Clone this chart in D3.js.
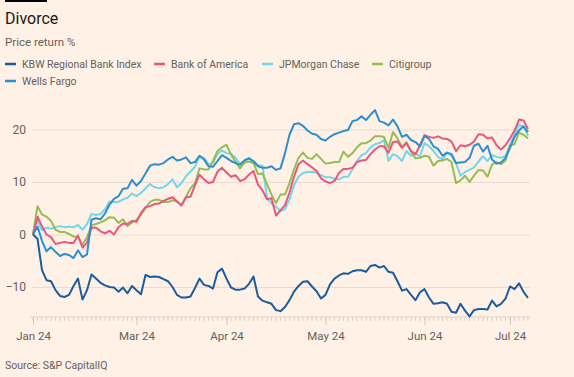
<!DOCTYPE html>
<html>
<head>
<meta charset="utf-8">
<script src="https://cdn.jsdelivr.net/npm/d3@7"></script>
<style>
  html, body { margin: 0; padding: 0; background: #fff1e5; }
  svg { display: block; font-family: Roboto, "Noto Sans", sans-serif; }
</style>
</head>
<body>
<div id="chart"></div>
<script>
// price return %, one value per trading day (30 Jan 2024 .. 8 Jul 2024)
const kbw = [0,-0.8,-6.8,-8.7,-8.9,-10.6,-11.7,-11.9,-11.5,-9.8,-8.4,-12.4,-10.6,-7.6,-8.4,-9.2,-9.7,-10.0,-10.1,-10.9,-10.1,-11.2,-9.8,-10.6,-11.4,-7.7,-8.1,-8.0,
  -8.1,-8.5,-8.9,-10.0,-11.5,-12.0,-12.0,-11.8,-10.2,-8.4,-9.6,-9.8,-10.3,-7.2,-6.5,-8.4,-10.1,-10.5,-10.5,-10.3,-9.4,-8.0,-11.8,-12.6,-12.9,-13.2,-14.4,-14.6,
  -13.8,-12.5,-10.9,-9.8,-9.0,-8.9,-9.9,-10.8,-12.2,-11.5,-9.5,-8.4,-7.8,-7.4,-7.5,-7.0,-6.8,-6.8,-7.1,-6.0,-5.8,-6.3,-6.0,-7.1,-7.3,-8.9,-10.7,-10.4,-11.5,
  -12.5,-11.0,-10.4,-12.0,-13.2,-13.1,-12.9,-13.2,-14.7,-14.9,-13.2,-14.5,-15.6,-14.4,-14.2,-14.2,-14.3,-12.6,-13.7,-13.2,-12.2,-9.9,-10.4,-9.3,-10.9,-12.1];

const bofa = [0,3.4,1.6,0,-0.5,-1.8,-1.6,-1.4,-1.6,-1.6,-0.2,-2.5,-1.6,1.3,1.3,0.6,0.2,0.7,0,1.4,2.1,2.0,2.6,2.4,4.1,5.2,5.4,5.8,
  5.9,6.4,6.8,7.1,6.3,5.5,7.1,7.2,9.4,11.4,10.5,9.8,10.0,12.0,12.7,11.8,11.0,11.3,10.2,10.5,11.4,12.1,9.5,8.4,6.7,6.9,3.6,4.6,
  5.6,8.0,11.0,13.4,14.1,13.4,12.8,12.1,10.7,10.1,9.8,10.2,11.7,12.5,12.5,12.7,13.8,14.1,14.2,15.3,16.2,16.8,16.8,15.6,17.6,17.7,16.5,17.4,15.9,
  15.3,17.0,18.9,18.6,18.4,18.7,18.3,18.2,17.7,15.9,17.0,16.8,17.1,17.7,19.1,19.0,18.3,18.5,17.0,16.2,17.0,18.3,19.8,21.9,21.7,20.1];

const jpm = [0,2.7,0.8,1.3,1.1,1.4,1.6,1.4,1.5,1.4,1.8,0.9,2.0,3.9,3.7,3.9,4.8,6.3,6.2,6.2,6.7,7.0,7.8,7.3,7.9,8.8,9.6,9.0,
  8.8,9.0,9.6,10.5,9.0,9.8,11.1,12.0,12.9,14.9,14.6,13.4,13.6,15.4,16.0,15.5,15.4,14.6,13.4,14.1,14.6,14.0,13.2,13.1,7.0,5.9,5.3,4.5,
  4.8,6.7,9.4,11.0,11.7,11.9,11.9,11.8,11.3,10.9,10.9,10.6,10.5,11.0,11.0,12.4,14.0,15.1,15.5,16.6,17.2,17.4,18.0,14.0,15.3,14.9,14.0,15.9,15.0,
  15.4,14.9,17.4,16.8,15.9,14.8,14.3,15.6,15.0,13.6,11.2,11.9,12.3,12.8,13.9,14.9,14.0,15.1,14.8,14.6,15.0,17.1,19.0,20.9,20.5,18.8];

const citi = [0,5.4,3.8,3.4,2.6,0.9,0.5,0.5,0.1,-0.4,-0.5,-2.0,-0.5,1.7,2.0,2.3,2.7,3.3,3.2,2.2,2.9,1.6,2.3,2.8,3.8,5.0,6.2,6.6,
  6.6,6.2,6.2,6.5,6.3,5.6,7.2,8.8,9.8,12.6,12.4,12.4,14.0,15.9,16.6,17.1,15.2,13.9,12.6,13.7,13.9,13.6,11.5,11.6,9.6,7.6,6.0,7.6,
  7.6,9.8,12.4,14.6,15.6,14.6,14.4,15.3,14.4,13.5,13.6,13.8,13.8,15.8,14.8,15.5,16.6,17.4,17.4,17.9,18.7,18.7,18.6,16.5,19.5,18.3,16.7,17.6,15.8,
  14.5,14.6,15.0,14.8,13.1,14.0,14.1,14.4,13.8,9.8,10.3,11.2,10.0,11.2,12.3,12.2,11.0,13.3,13.8,13.4,14.1,17.0,17.2,19.4,19.0,18.3];

const wells = [0,1.5,-1.2,-3.2,-2.4,-3.3,-4.1,-3.7,-3.9,-4.5,-3.0,-4.3,-3.8,2.8,3.1,2.9,4.0,5.7,6.8,7.3,8.7,8.8,10.4,9.3,10.2,11.6,13.1,13.4,
  13.3,13.6,14.3,14.8,14.1,14.3,14.7,13.6,13.8,15.0,14.3,13.0,12.9,14.0,15.1,14.6,14.0,13.6,13.3,14.1,14.5,13.9,13.0,12.7,12.7,13.0,12.3,12.6,
  15.5,19.0,21.0,21.2,20.7,19.8,19.2,19.0,18.2,17.9,18.6,19.1,19.4,19.7,19.9,21.6,21.8,22.5,21.8,22.8,23.7,21.6,21.3,20.8,21.9,20.6,18.6,19.0,18.0,
  17.6,16.8,18.8,18.2,16.8,16.3,15.0,15.6,15.3,13.6,13.7,13.8,14.6,16.9,17.3,15.8,16.9,14.3,13.5,13.7,14.6,16.5,18.6,19.8,20.6,19.5];

const seriesNames = ["KBW Regional Bank Index", "Bank of America", "JPMorgan Chase", "Citigroup", "Wells Fargo"];
const seriesValues = [kbw, bofa, jpm, citi, wells];
const seriesColors = ["#1c5c9c", "#e9567e", "#74d6e8", "#95be50", "#2b8fd0"];

const yTicks = [-10, 0, 10, 20];
const monthIndex = [0, 23, 43, 65, 87, 106];
const monthLabels = ["Jan 24", "Mar 24", "Apr 24", "May 24", "Jun 24", "Jul 24"];

const width = 574, height = 377;
const margin = {top: 100, right: 46, bottom: 59, left: 33};

const svg = d3.select("#chart").append("svg")
  .attr("width", width)
  .attr("height", height);

svg.append("rect").attr("width", width).attr("height", height).attr("fill", "#fff1e5");
svg.append("rect").attr("x", 5).attr("y", 0).attr("width", 42).attr("height", 2).attr("fill", "#000");

svg.append("text").attr("x", 5).attr("y", 24)
  .attr("font-size", 16).attr("fill", "#1a1817").text("Divorce");
svg.append("text").attr("x", 5).attr("y", 46)
  .attr("font-size", 11.5).attr("fill", "#66605c").text("Price return %");

const n = kbw.length;
const x = d3.scaleLinear([0, n - 1], [margin.left, width - margin.right]);
const y = d3.scaleLinear([-10, 20], [287, 129.5]);

// gridlines + y labels
const yAxis = svg.append("g")
  .attr("transform", `translate(${margin.left - 1},0)`)
  .call(d3.axisLeft(y).tickValues(yTicks).tickSize(-(width - margin.right - margin.left + 3)).tickPadding(6));
yAxis.select(".domain").remove();
yAxis.selectAll(".tick line").attr("stroke", "#e8dcd2");
yAxis.selectAll(".tick text").attr("font-size", 12).attr("fill", "#66605c")
  .attr("font-family", "Roboto, sans-serif");

// x axis: daily minor ticks, month ticks longer
const axisY = 317;
const xg = svg.append("g").attr("transform", `translate(0,${axisY})`);
xg.append("line").attr("x1", x(0) - 3).attr("x2", x(n - 1) + 2)
  .attr("stroke", "#ddd2c8").attr("stroke-width", 1);
xg.selectAll(".minor").data(d3.range(n)).join("line")
  .attr("x1", d => x(d)).attr("x2", d => x(d))
  .attr("y1", 0).attr("y2", 4)
  .attr("stroke", "#ddd2c8");
xg.call(d3.axisBottom(x).tickValues(monthIndex).tickFormat((d, i) => monthLabels[i]).tickSize(8).tickPadding(7));
xg.select(".domain").remove();
xg.selectAll(".tick line").attr("stroke", "#d6cbc1");
xg.selectAll(".tick text").attr("font-size", 11.5).attr("fill", "#66605c")
  .attr("font-family", "Roboto, sans-serif");

// lines
const line = d3.line().x((d, i) => x(i)).y(d => y(d));
const drawOrder = [2, 3, 1, 4, 0];
svg.append("g").selectAll("path")
  .data(drawOrder)
  .join("path")
  .attr("fill", "none")
  .attr("stroke", k => seriesColors[k])
  .attr("stroke-width", 2)
  .attr("stroke-linejoin", "round")
  .attr("d", k => line(seriesValues[k]));

// legend
const legendPos = [[5, 64], [154, 64], [262, 64], [372, 64], [5, 81]];
const legend = svg.selectAll(".legend-group")
  .data(seriesNames)
  .join("g")
  .attr("class", "legend-group")
  .attr("transform", (d, i) => `translate(${legendPos[i][0]},${legendPos[i][1]})`);
legend.append("line")
  .attr("x1", 0).attr("x2", 11)
  .attr("stroke", (d, i) => seriesColors[i]).attr("stroke-width", 2.5);
legend.append("text")
  .attr("x", 17).attr("y", 4)
  .attr("font-size", 10.5).attr("fill", "#66605c")
  .text(d => d);

svg.append("text").attr("x", 5).attr("y", 369)
  .attr("font-size", 10.5).attr("fill", "#66605c").text("Source: S&P CapitalIQ");
</script>
</body>
</html>
